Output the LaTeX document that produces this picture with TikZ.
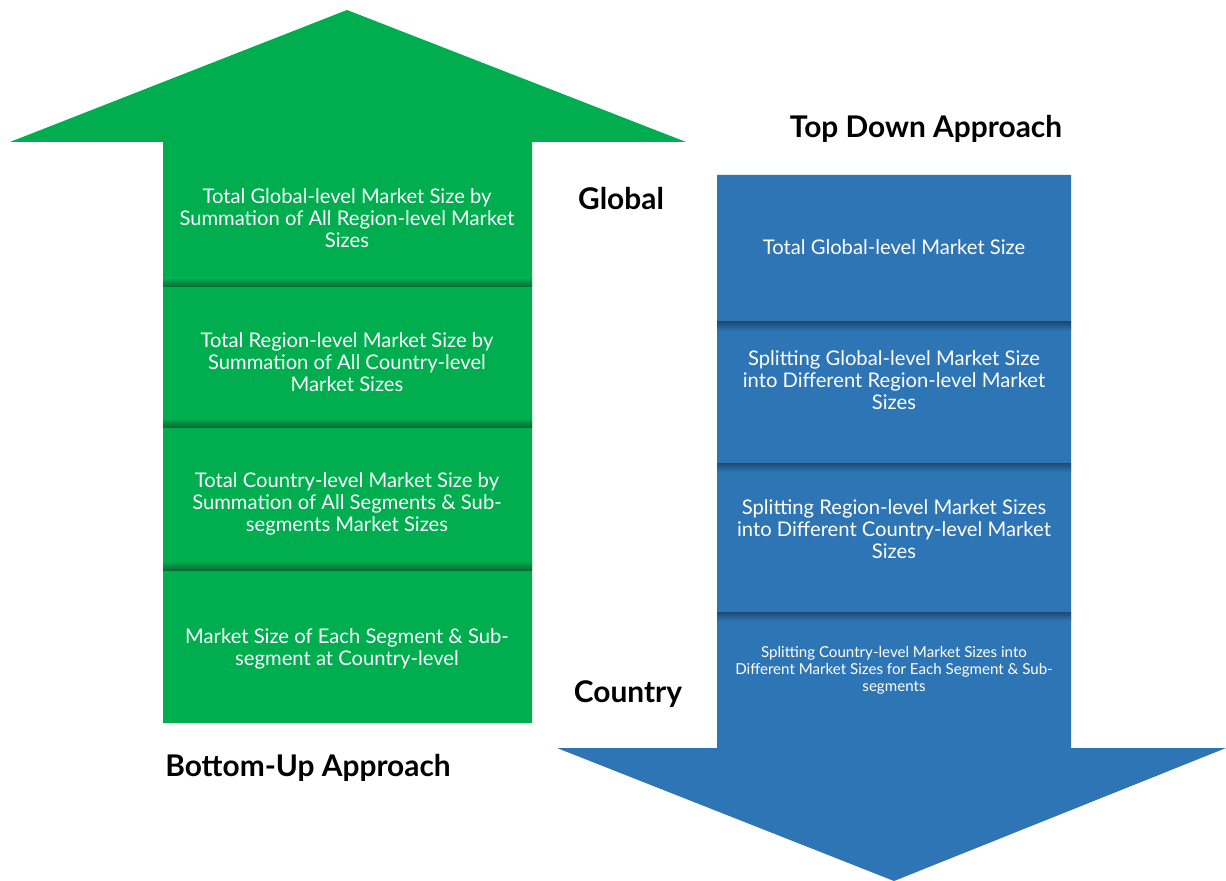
\documentclass[tikz,border=0pt]{standalone}
\usepackage{fontspec}
\setmainfont{Lato}
\usetikzlibrary{positioning}

\definecolor{upgreen}{HTML}{00AE4F}
\definecolor{upgreendark}{HTML}{0A6B35}
\definecolor{downblue}{HTML}{2E75B6}
\definecolor{downbluedark}{HTML}{1F4A75}

\tikzset{
    stepbox/.style={text=white, align=center, inner sep=0pt,
        font=\fontsize{11.5}{12.7}\selectfont},
    smallbox/.style={stepbox, font=\fontsize{8.6}{9.7}\selectfont},
    heading/.style={font=\fontsize{17}{19}\selectfont\bfseries, inner sep=0pt},
}

\begin{document}
\begin{tikzpicture}[x=0.02cm, y=-0.02cm]
    \useasboundingbox (0,0) rectangle (1226,881);

    % bottom-up arrow
    \fill[upgreen] (347,10) -- (686,142) -- (532,142) -- (532,723)
        -- (163,723) -- (163,142) -- (10,142) -- cycle;
    \foreach \y in {287,427,570} {
        \shade[top color=upgreen, bottom color=upgreendark] (163,\y-9) rectangle (532,\y);
    }

    % top-down arrow
    \fill[downblue] (717,175) -- (1071,175) -- (1071,748) -- (1226,748)
        -- (894,881) -- (557,748) -- (717,748) -- cycle;
    \foreach \y in {322,463,612} {
        \shade[top color=downbluedark, bottom color=downblue] (717,\y) rectangle (1071,\y+9);
    }

    % green steps
    \node[stepbox] (glob) at (347,218) {Total Global-level Market Size by\\Summation of All Region-level Market\\Sizes};
    \node[stepbox] (reg) at (347,362) {Total Region-level Market Size by\\Summation of All Country-level\\Market Sizes};
    \node[stepbox] (ctry) at (347,504) {Total Country-level Market Size by\\Summation of All Segments \& Sub-\\segments Market Sizes};
    \node[stepbox] (seg) at (347,649) {Market Size of Each Segment \& Sub-\\segment at Country-level};

    % blue steps
    \node[stepbox] (tglob) at (894,247) {Total Global-level Market Size};
    \node[stepbox] (treg) at (894,380) {Splitting Global-level Market Size\\into Different Region-level Market\\Sizes};
    \node[stepbox] (tctry) at (894,529) {Splitting Region-level Market Sizes\\into Different Country-level Market\\Sizes};
    \node[smallbox] (tseg) at (894,670) {Splitting Country-level Market Sizes into\\Different Market Sizes for Each Segment \& Sub-\\segments};

    % labels
    \node[heading] (topdown) at (926,129) {Top Down Approach};
    \node[heading] (global) at (621,199) {Global};
    \node[heading] (country) at (628,694) {Country};
    \node[heading] (bottomup) at (308,768) {Bottom-Up Approach};
\end{tikzpicture}
\end{document}
